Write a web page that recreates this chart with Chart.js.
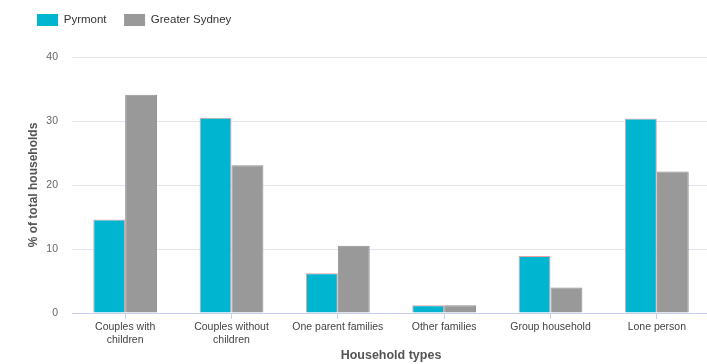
<!DOCTYPE html>
<html>
<head>
<meta charset="utf-8">
<script src="https://cdn.jsdelivr.net/npm/chart.js@4"></script>
<style>
  html, body { margin: 0; padding: 0; background: #fff; overflow: hidden; }
  #wrap { width: 712px; height: 364px; }
</style>
</head>
<body>
<div id="wrap"><canvas id="householdChart"></canvas></div>
<script>
// Household composition, % of total households
const categories = [
    ['Couples with', 'children'],
    ['Couples without', 'children'],
    'One parent families',
    'Other families',
    'Group household',
    'Lone person'
];
const pyrmont = [14.6, 30.5, 6.2, 1.2, 8.9, 30.4];
const greaterSydney = [34.1, 23.1, 10.5, 1.2, 4.0, 22.1];
const yTicks = [0, 10, 20, 30, 40];

// legend sits over the plot, a little left of the first bars
const legendPos = { x: 37, boxTop: 14, height: 57 };

const legendPlacement = {
    id: 'legendPlacement',
    afterInit(chart) {
        const legend = chart.legend;
        const fit = legend.fit;
        legend.fit = function () {
            fit.call(this);
            this.height = legendPos.height;
        };
    },
    afterLayout(chart) {
        const legend = chart.legend;
        const pad = legend.options.labels.padding;
        const dx = legendPos.x - pad - legend.left;
        const dy = legendPos.boxTop - pad - legend.top;
        legend.left += dx;
        legend.right += dx;
        legend.top += dy;
        legend.bottom += dy;
    }
};

Chart.defaults.font.family = '"Liberation Sans", Arial, sans-serif';
Chart.defaults.color = '#666';

new Chart(document.getElementById('householdChart'), {
    type: 'bar',
    data: {
        labels: categories,
        datasets: [{
            label: 'Pyrmont',
            data: pyrmont,
            backgroundColor: '#00b5cf',
            borderColor: '#e8a0a0',
            borderWidth: 1
        }, {
            label: 'Greater Sydney',
            data: greaterSydney,
            backgroundColor: '#999999',
            borderColor: '#8e8e8e',
            borderWidth: 1
        }]
    },
    options: {
        responsive: true,
        maintainAspectRatio: false,
        animation: false,
        categoryPercentage: 0.6,
        barPercentage: 1,
        layout: { padding: { top: 0, left: 0, right: 2, bottom: 0 } },
        plugins: {
            legend: {
                align: 'start',
                labels: {
                    boxWidth: 21,
                    boxHeight: 12,
                    padding: 17.5,
                    color: '#333',
                    font: { size: 11.5 },
                    generateLabels(chart) {
                        return Chart.defaults.plugins.legend.labels.generateLabels(chart)
                            .map(item => ({ ...item, lineWidth: 0 }));
                    }
                }
            },
            tooltip: { enabled: false }
        },
        scales: {
            x: {
                afterFit(scale) { scale.height = 51; },
                grid: {
                    drawOnChartArea: false,
                    offset: false,
                    tickLength: 6,
                    color: '#c8d0f0'
                },
                border: { color: '#c8cdf0' },
                ticks: {
                    maxRotation: 0,
                    autoSkip: false,
                    padding: 2,
                    color: '#444',
                    font: { size: 10.5, lineHeight: 1.2 }
                },
                title: {
                    display: true,
                    text: 'Household types',
                    color: '#555',
                    padding: { top: 0, bottom: 1 },
                    font: { size: 12.5, weight: 'bold', lineHeight: 1.2 }
                }
            },
            y: {
                min: 0,
                max: 40,
                afterBuildTicks(axis) {
                    axis.ticks = yTicks.map(v => ({ value: v }));
                },
                afterFit(scale) { scale.width = 72; },
                grid: {
                    color: '#e4e4ee',
                    drawTicks: false
                },
                border: { display: false },
                ticks: {
                    padding: 14,
                    color: '#666',
                    font: { size: 10.5 }
                },
                title: {
                    display: true,
                    text: '% of total households',
                    color: '#555',
                    padding: { top: 26, bottom: 0 },
                    font: { size: 12, weight: 'bold', lineHeight: 1.2 }
                }
            }
        }
    },
    plugins: [legendPlacement]
});
</script>
</body>
</html>
